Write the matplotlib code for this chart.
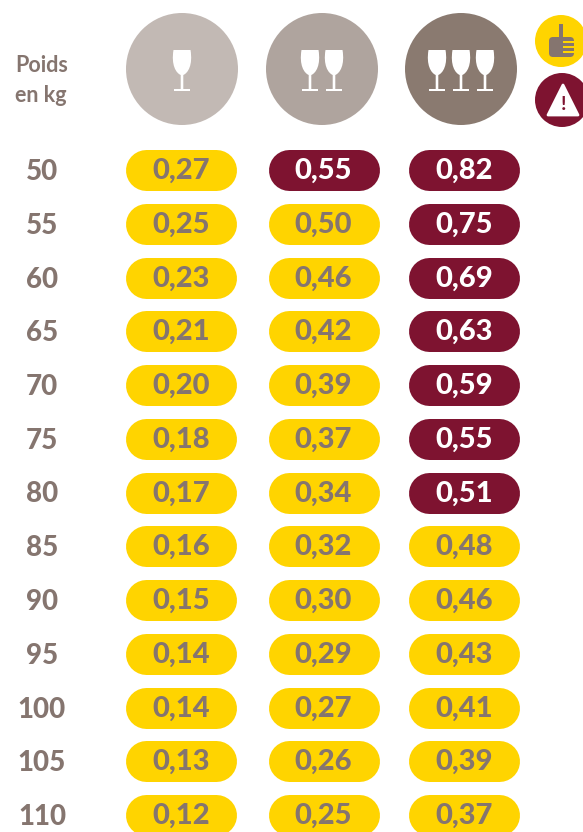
import matplotlib
matplotlib.use("Agg")
import matplotlib.pyplot as plt
from matplotlib.patches import Circle, FancyBboxPatch, PathPatch, Polygon, Rectangle
from matplotlib.path import Path

plt.rcParams['font.family'] = ['Lato', 'DejaVu Sans']

weights = [50, 55, 60, 65, 70, 75, 80, 85, 90, 95, 100, 105, 110]
one_glass = [0.27, 0.25, 0.23, 0.21, 0.20, 0.18, 0.17, 0.16, 0.15, 0.14, 0.14, 0.13, 0.12]
two_glasses = [0.55, 0.50, 0.46, 0.42, 0.39, 0.37, 0.34, 0.32, 0.30, 0.29, 0.27, 0.26, 0.25]
three_glasses = [0.82, 0.75, 0.69, 0.63, 0.59, 0.55, 0.51, 0.48, 0.46, 0.43, 0.41, 0.39, 0.37]
series = [one_glass, two_glasses, three_glasses]
glass_counts = [1, 2, 3]
limit = 0.5

YELLOW, RED, TAUPE = '#FFD400', '#7E1330', '#85756F'
circle_colors = ['#C2B9B4', '#AFA49E', '#8A7A70']
col_pill_left = [125.5, 268, 408.5]
col_circle_x = [182, 322, 461]
PILL_W, PILL_H = 111, 41
ROW0, PITCH = 170, 53.75

fig = plt.figure(figsize=(5.83, 8.32), dpi=100, facecolor='white')
ax = fig.add_axes([0, 0, 1, 1])
ax.set_xlim(0, 583)
ax.set_ylim(832, 0)
ax.axis('off')


def glass(cx):
    t, neck, stem, base = 50, 75, 89, 91
    verts = [(cx - 8.5, t), (cx + 8.5, t),
             (cx + 11, t + 15), (cx + 6, neck - 2), (cx + 1.3, neck),
             (cx + 1.3, stem), (cx + 8, stem), (cx + 8, base), (cx - 8, base), (cx - 8, stem),
             (cx - 1.3, stem), (cx - 1.3, neck),
             (cx - 6, neck - 2), (cx - 11, t + 15), (cx - 8.5, t), (cx - 8.5, t)]
    codes = [Path.MOVETO, Path.LINETO,
             Path.CURVE4, Path.CURVE4, Path.CURVE4,
             Path.LINETO, Path.LINETO, Path.LINETO, Path.LINETO, Path.LINETO,
             Path.LINETO, Path.LINETO,
             Path.CURVE4, Path.CURVE4, Path.CURVE4, Path.CLOSEPOLY]
    ax.add_patch(PathPatch(Path(verts, codes), fc='white', ec='none', zorder=3))


# header: glass circles
for cx, col, n in zip(col_circle_x, circle_colors, glass_counts):
    ax.add_patch(Circle((cx, 69), 56, fc=col, ec='none'))
    for k in range(n):
        glass(cx + (k - (n - 1) / 2) * 24)

ax.text(15, 66, 'Poids', fontsize=15.5, fontweight='bold', color=TAUPE, va='center', ha='left')
ax.text(15, 95, 'en kg', fontsize=15.5, fontweight='bold', color=TAUPE, va='center', ha='left')

# legend icons
ax.add_patch(Circle((561, 41), 26, fc=YELLOW, ec='none'))
ax.add_patch(FancyBboxPatch((549, 37), 25, 20, boxstyle='round,pad=0,rounding_size=4', fc=TAUPE, ec='none', zorder=3))
ax.add_patch(Rectangle((559, 24), 3.5, 14, fc=TAUPE, ec='none', zorder=3))
for fy in (41, 46, 51):
    ax.add_patch(Rectangle((563, fy), 12, 2, fc=YELLOW, ec='none', zorder=4))
ax.add_patch(Circle((562, 100), 27, fc=RED, ec='none'))
ax.add_patch(Polygon([(563, 85), (578, 115), (548, 115)], closed=True, fc='white', ec='white', lw=2, joinstyle='round', zorder=3))
ax.text(563, 104, '!', fontsize=14, fontweight='bold', color=RED, ha='center', va='center', zorder=4)

# table
cap_lw = PILL_H * 72 / fig.dpi
for i, w in enumerate(weights):
    y = ROW0 + i * PITCH
    ax.text(42, y + 2, str(w), fontsize=20, fontweight='black', color=TAUPE, ha='center', va='center')
    for left, vals in zip(col_pill_left, series):
        v = vals[i]
        high = v > limit
        ax.plot([left + PILL_H / 2, left + PILL_W - PILL_H / 2], [y, y], lw=cap_lw,
                solid_capstyle='round', color=RED if high else YELLOW, zorder=2)
        ax.text(left + PILL_W / 2, y + 1, f'{v:.2f}'.replace('.', ','), fontsize=21, fontweight='black',
                color='white' if high else TAUPE, ha='center', va='center', zorder=3)

fig.savefig('out.png', dpi=100, facecolor='white')
